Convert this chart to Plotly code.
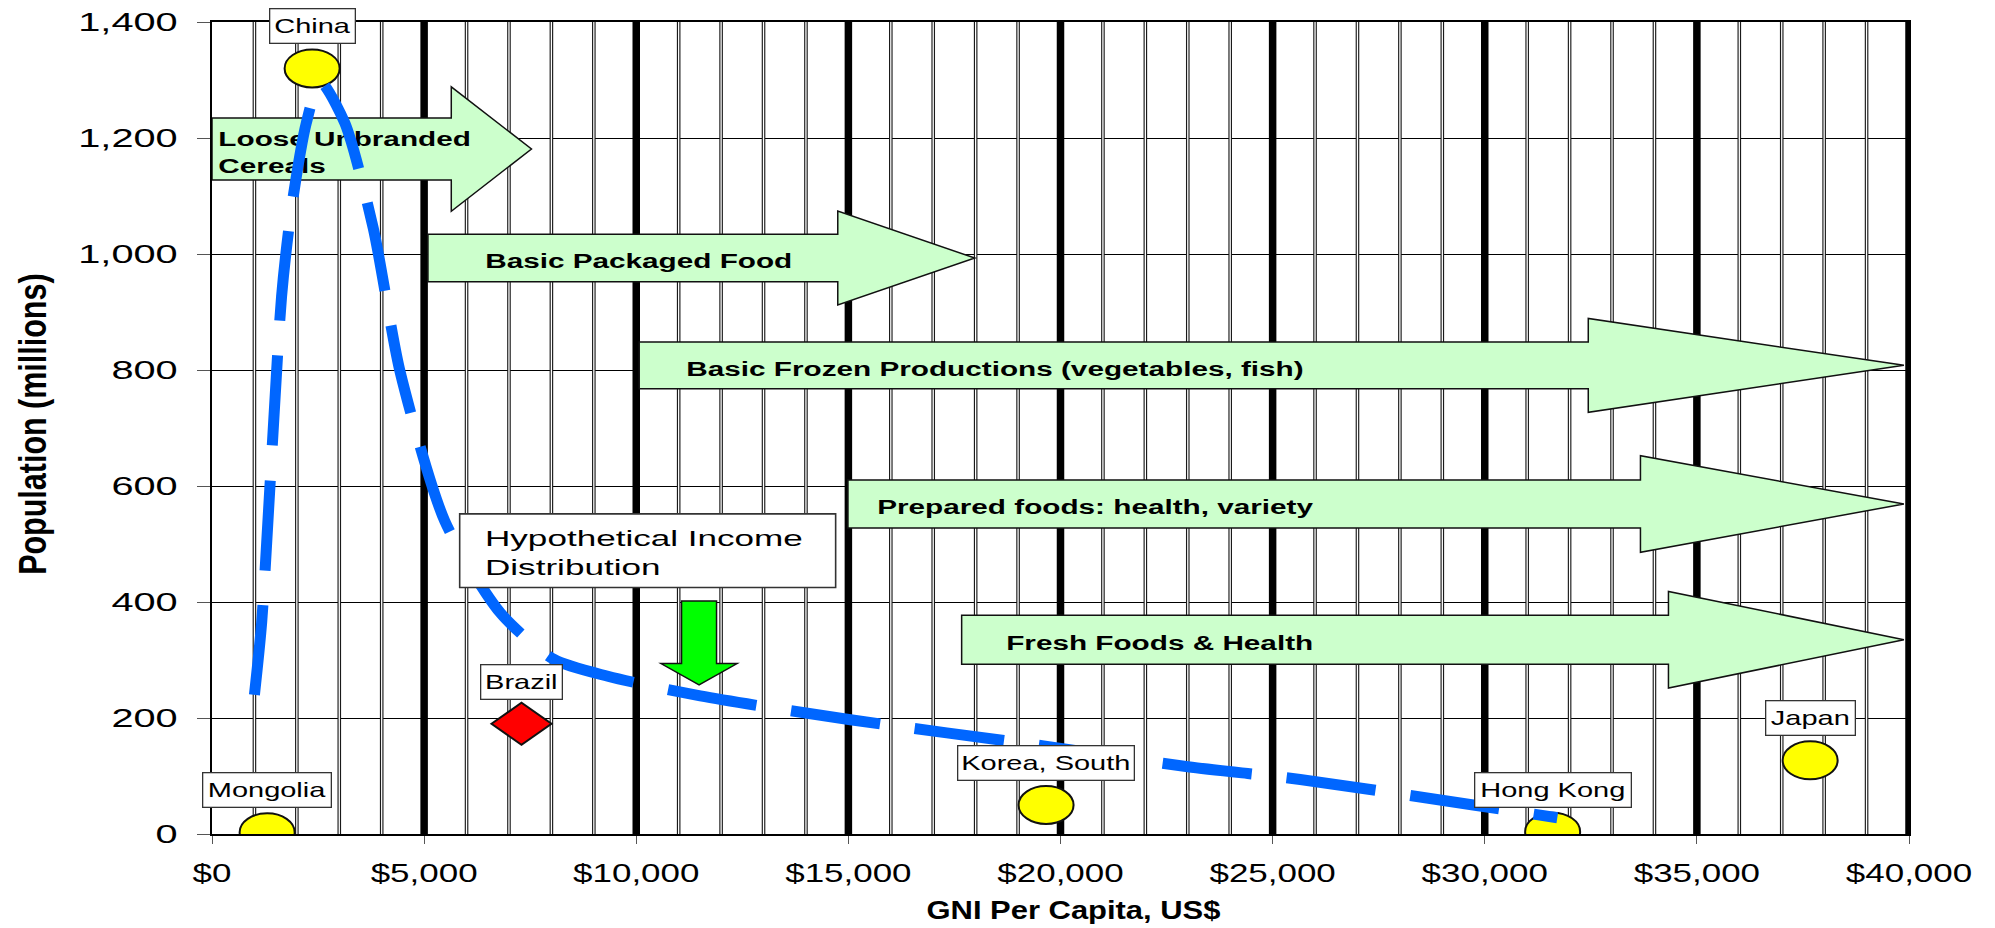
import json
import plotly.graph_objects as go

# ---------------- data ----------------
# Hypothetical income distribution (GNI per capita, US$ / population, millions)
curve_gni = [1000, 1170, 1640, 1870, 2220, 2550, 3130, 3800, 4440, 5490, 6800,
             8060, 9330, 11510, 15050, 19600, 23000, 25650, 29730, 31710]
curve_pop = [240, 364, 927, 1077, 1225, 1297, 1226, 1045, 795, 539, 381,
             301, 272, 238, 197, 152, 116, 94, 50, 28]

# Countries
countries = ["Mongolia", "China", "Brazil", "Korea, South", "Hong Kong", "Japan"]
country_gni = [1300, 2360, 7295, 19660, 31600, 37670]
country_pop = [3, 1320, 190, 50, 4, 127]

# Product stages along the income axis
stage_labels = ["Loose Unbranded<br>Cereals", "Basic Packaged Food",
                "Basic Frozen Productions (vegetables, fish)",
                "Prepared foods: health, variety", "Fresh Foods & Health"]
stage_start = [0, 5090, 10070, 14990, 17670]
stage_head = [5640, 14750, 32440, 33670, 34330]
stage_tip = [7530, 17980, 39880, 39880, 39880]

x_ticks = list(range(0, 40001, 5000))
x_tick_text = ["$" + format(v, ",") for v in x_ticks]
y_ticks = list(range(0, 1401, 200))
y_tick_text = [format(v, ",") for v in y_ticks]

# ---------------- layout / style ----------------
FONT = "Liberation Sans, Arial, Helvetica, sans-serif"
W, H = 1995, 928
stage_level = [1181, 993, 808, 569, 335]          # arrow centre line (population units)
stage_text_drop = 9                               # captions sit slightly below the centre line
stage_text_x = [150, 6440, 11180, 15680, 18720]   # where each arrow caption starts
stage_body_px = [30.9, 23.7, 23.3, 24.0, 24.5]    # half body height, px
stage_head_px = [62.2, 47.0, 46.9, 48.3, 48.3]    # half head height, px
label_box_w = [130, 87, 83, 178, 158, 91]
label_lift = 42
hypo_box = (5838, 14700, 425, 552)
hypo_text_at = (6380, 484)
pointer_at = (11480, 257)

fig = go.Figure()

shapes = []
# vertical grid: heavy line every $5,000, double hairline every $1,000
for v in range(1000, 40001, 1000):
    if v % 5000 == 0:
        shapes.append(dict(type="line", xref="x", yref="y", x0=v, x1=v, y0=0, y1=1400,
                           line=dict(color="black", width=7.5), layer="between"))
    else:
        shapes.append(dict(type="line", xref="x", yref="y", x0=v, x1=v, y0=0, y1=1400,
                           line=dict(color="#1a1a1a", width=3.6), layer="between"))
        shapes.append(dict(type="line", xref="x", yref="y", x0=v, x1=v, y0=0, y1=1400,
                           line=dict(color="white", width=1.3), layer="between"))

# block arrows for the product stages
for s0, sh, st, lvl, b, h in zip(stage_start, stage_head, stage_tip, stage_level,
                                  stage_body_px, stage_head_px):
    path = (f"M {s0},{b} L {sh},{b} L {sh},{h} L {st},0 "
            f"L {sh},{-h} L {sh},{-b} L {s0},{-b} Z")
    shapes.append(dict(type="path", xref="x", yref="y", ysizemode="pixel", yanchor=lvl,
                       path=path, fillcolor="#ccffcc",
                       line=dict(color="#111111", width=1.5), layer="between"))

# country markers
for name, gx, py in zip(countries, country_gni, country_pop):
    if name == "Brazil":
        shapes.append(dict(type="path", xref="x", yref="y",
                           xsizemode="pixel", xanchor=gx, ysizemode="pixel", yanchor=py,
                           path="M -30,0 L 0,21 L 30,0 L 0,-21 Z",
                           fillcolor="#ff0000", line=dict(color="#111111", width=2),
                           layer="between"))
    else:
        shapes.append(dict(type="circle", xref="x", yref="y",
                           xsizemode="pixel", xanchor=gx, x0=-27.5, x1=27.5,
                           ysizemode="pixel", yanchor=py, y0=-19, y1=19,
                           fillcolor="#ffff00", line=dict(color="#111111", width=2),
                           layer="between"))

# caption box of the distribution curve and its pointer
shapes.append(dict(type="rect", xref="x", yref="y", x0=hypo_box[0], x1=hypo_box[1],
                   y0=hypo_box[2], y1=hypo_box[3], fillcolor="white",
                   line=dict(color="#333333", width=1.6), layer="above"))
shapes.append(dict(type="path", xref="x", yref="y",
                   xsizemode="pixel", xanchor=pointer_at[0],
                   ysizemode="pixel", yanchor=pointer_at[1],
                   path="M 0,0 L -38,21.4 L -17.5,21.4 L -17.5,84 L 17.5,84 "
                        "L 17.5,21.4 L 38,21.4 Z",
                   fillcolor="#00ff00", line=dict(color="#111111", width=1.5),
                   layer="above"))

# stage captions (trace layer, so the curve passes over them)
fig.add_trace(go.Scatter(
    x=stage_text_x, y=[v - stage_text_drop for v in stage_level],
    mode="text", text=stage_labels, textposition="middle right",
    textfont=dict(family=FONT, size=20.5, color="black", weight="bold"),
    hoverinfo="skip", showlegend=False))

# country points (hover only; drawn by the marker shapes)
fig.add_trace(go.Scatter(
    x=country_gni, y=country_pop, mode="markers", text=countries,
    marker=dict(size=30, opacity=0),
    hovertemplate="%{text}<br>GNI %{x:,}<br>%{y:,} M<extra></extra>",
    showlegend=False))

# hypothetical income distribution
fig.add_trace(go.Scatter(
    x=curve_gni, y=curve_pop, mode="lines",
    line=dict(color="#0066ff", width=11, dash="90px,35px", shape="spline", smoothing=0.7),
    hoverinfo="skip", showlegend=False))

annotations = []
stretch = []
# axis titles
annotations.append(dict(xref="paper", yref="paper", x=0.508, y=-0.094,
                        text="GNI Per Capita, US$", showarrow=False,
                        xanchor="center", yanchor="middle",
                        font=dict(family=FONT, size=26, color="black", weight="bold")))
stretch.append([1.19, "x"])
annotations.append(dict(xref="paper", yref="paper", x=-0.1055, y=0.505,
                        text="Population (millions)", showarrow=False, textangle=-90,
                        xanchor="center", yanchor="middle",
                        font=dict(family=FONT, size=30.5, color="black", weight="bold")))
stretch.append([1.28, "y"])
annotations.append(dict(xref="x", yref="y", x=hypo_text_at[0], y=hypo_text_at[1],
                        text="Hypothetical Income<br>Distribution", showarrow=False,
                        xanchor="left", yanchor="middle", align="left",
                        font=dict(family=FONT, size=22.5, color="black")))
stretch.append([1.56, "x"])
for name, gx, py, bw in zip(countries, country_gni, country_pop, label_box_w):
    annotations.append(dict(xref="x", yref="y", x=gx, y=py, yshift=label_lift,
                            text=name, showarrow=False, xanchor="center", yanchor="middle",
                            width=bw - 5, height=31, align="center",
                            bgcolor="white", bordercolor="#333333", borderwidth=1.3,
                            borderpad=1,
                            font=dict(family=FONT, size=21, color="black")))
    stretch.append([1.38, "x"])

fig.update_layout(
    width=W, height=H,
    margin=dict(l=212, r=86, t=22, b=94, autoexpand=False),
    paper_bgcolor="white", plot_bgcolor="white",
    showlegend=False,
    shapes=shapes, annotations=annotations,
    font=dict(family=FONT, color="black"),
    xaxis=dict(range=[0, 40000], tickvals=x_ticks, ticktext=x_tick_text,
               showgrid=False, zeroline=False, showline=True, linecolor="black",
               linewidth=2, mirror=True, ticks="outside", ticklen=8, tickwidth=1.3,
               tickcolor="#555555", ticklabelstandoff=6,
               tickfont=dict(family=FONT, size=26.5, color="black"), fixedrange=True),
    yaxis=dict(range=[0, 1400], tickvals=y_ticks, ticktext=y_tick_text,
               showgrid=True, gridcolor="black", gridwidth=1.3, zeroline=False,
               showline=True, linecolor="black", linewidth=2, mirror=True,
               ticks="outside", ticklen=13, tickwidth=1.3, tickcolor="#555555",
               ticklabelstandoff=14,
               tickfont=dict(family=FONT, size=26.5, color="black"), fixedrange=True),
)

# widen the text horizontally (the chart's lettering is set in a stretched face)
cfg = {"annotations": stretch, "xticks": 1.32, "yticks": 1.5, "text": 1.45}
STRETCH_JS = """
var gd = document.getElementById('{plot_id}');
var cfg = __CFG__;
function stretchText() {
  var texts = gd.querySelectorAll('text');
  for (var i = 0; i < texts.length; i++) {
    var t = texts[i];
    var k = 1, axis = 'x';
    var ann = t.closest('g.annotation');
    if (ann) {
      var spec = cfg.annotations[parseInt(ann.getAttribute('data-index'), 10)];
      if (!spec) continue;
      k = spec[0]; axis = spec[1];
    } else if (t.closest('g.xtick')) {
      k = cfg.xticks;
    } else if (t.closest('g.ytick')) {
      k = cfg.yticks;
    } else if (t.closest('g.textpoint')) {
      k = cfg.text;
    } else {
      continue;
    }
    if (k === 1) continue;
    var cur = t.getAttribute('transform') || '';
    var done = t.getAttribute('data-stretch');
    if (done && cur.slice(-done.length) === done) continue;
    var b = t.getBBox();
    var s;
    if (axis === 'y') {
      var oy = b.y + b.height / 2;
      s = ' translate(0,' + oy + ') scale(1,' + k + ') translate(0,' + (-oy) + ')';
    } else {
      var a = t.getAttribute('text-anchor') || 'start';
      var ox = a === 'middle' ? b.x + b.width / 2 : (a === 'end' ? b.x + b.width : b.x);
      s = ' translate(' + ox + ',0) scale(' + k + ',1) translate(' + (-ox) + ',0)';
    }
    t.setAttribute('transform', cur + s);
    t.setAttribute('data-stretch', s);
  }
}
stretchText();
gd.on('plotly_afterplot', stretchText);
""".replace("__CFG__", json.dumps(cfg))

fig.write_html("out.html", config={"displayModeBar": False}, post_script=STRETCH_JS)
